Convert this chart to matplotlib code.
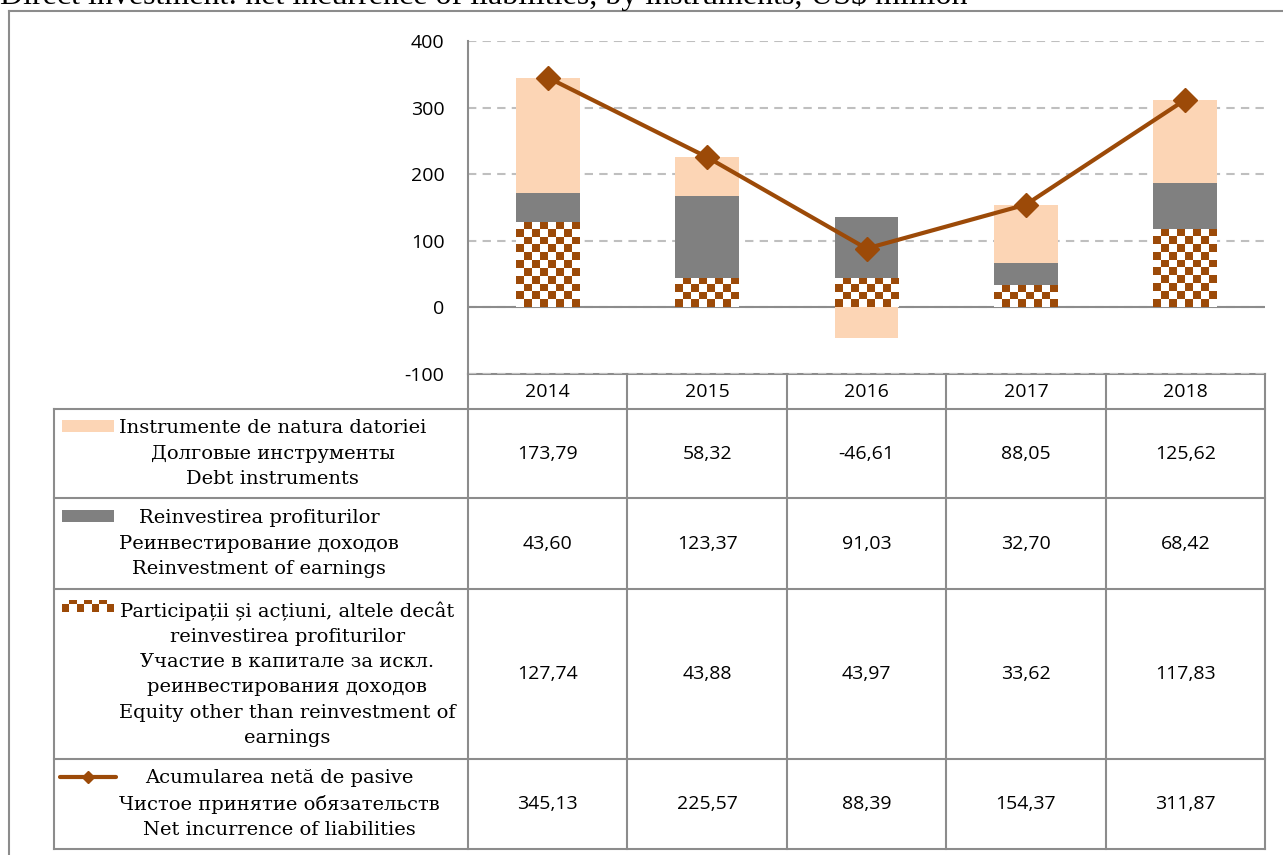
import matplotlib
matplotlib.use("Agg")
import matplotlib.pyplot as plt
from matplotlib.colors import ListedColormap
from matplotlib.patches import Rectangle
import numpy as np

plt.rcParams["axes.unicode_minus"] = False

years = ["2014", "2015", "2016", "2017", "2018"]
debt = [173.79, 58.32, -46.61, 88.05, 125.62]
reinvest = [43.60, 123.37, 91.03, 32.70, 68.42]
equity = [127.74, 43.88, 43.97, 33.62, 117.83]
net_total = [345.13, 225.57, 88.39, 154.37, 311.87]

row_labels = [
    "Instrumente de natura datoriei\nДолговые инструменты\nDebt instruments",
    "Reinvestirea profiturilor\nРеинвестирование доходов\nReinvestment of earnings",
    "Participații și acțiuni, altele decât\nreinvestirea profiturilor\nУчастие в капитале за искл.\n"
    "реинвестирования доходов\nEquity other than reinvestment of\nearnings",
    "Acumularea netă de pasive\nЧистое принятие обязательств\nNet incurrence of liabilities",
]
title = "Direct investment: net incurrence of liabilities, by instruments, US$ million"

PEACH = "#FCD5B5"
GRAY = "#808080"
BROWN = "#9C4A08"
LINE_C = "#8C8C8C"
SERIF = "DejaVu Serif"
SANS = "Open Sans"

W, H = 1283, 855
fig = plt.figure(figsize=(W / 100, H / 100), dpi=100)

# pixel layout of the excel-like chart + data table
plot_l, plot_r, plot_t, plot_b = 468, 1265, 41, 374
leg_l = 54
row_edges = [374, 409, 498, 589, 759, 849]

ax = fig.add_axes([plot_l / W, 1 - plot_b / H, (plot_r - plot_l) / W, (plot_b - plot_t) / H])
ax.set_zorder(2)
ax.patch.set_alpha(0)
ax.set_xlim(-0.5, len(years) - 0.5)
ax.set_ylim(-100, 400)
ax.set_yticks([-100, 0, 100, 200, 300, 400])
ax.set_xticks([])
ax.tick_params(axis="y", length=0, pad=17, labelsize=14)
for lab in ax.get_yticklabels():
    lab.set_fontfamily(SANS)
for s in ["top", "right", "bottom"]:
    ax.spines[s].set_visible(False)
ax.spines["left"].set_color(LINE_C)
ax.spines["left"].set_linewidth(1.5)
ax.yaxis.grid(True, color="#BFBFBF", linewidth=1.5, linestyle=(0, (4, 3)))
ax.set_axisbelow(True)
ax.axhline(0, color=LINE_C, linewidth=1.5, zorder=1.5)

x = np.arange(len(years))
eq = np.array(equity)
re = np.array(reinvest)
de = np.array(debt)
bw = 0.4

# equity bars: white base with checkerboard overlay
eq_bars = ax.bar(x, eq, width=bw, color="white", linewidth=0, zorder=2)
checker_cmap = ListedColormap(["white", BROWN])
cell = 8.0
for b in eq_bars:
    x0, y0 = b.get_x(), b.get_y()
    x1, y1 = x0 + b.get_width(), y0 + b.get_height()
    p0 = ax.transData.transform((x0, y0))
    p1 = ax.transData.transform((x1, y1))
    nc = max(1, int(round(abs(p1[0] - p0[0]) / cell)))
    nr = max(1, int(round(abs(p1[1] - p0[1]) / cell)))
    ii, jj = np.indices((nr, nc))
    img = ax.imshow((ii + jj) % 2, cmap=checker_cmap, extent=(x0, x1, y0, y1),
                    aspect="auto", interpolation="nearest", origin="upper", zorder=2.1)
    img.set_clip_path(b)

ax.bar(x, re, width=bw, bottom=eq, color=GRAY, linewidth=0, zorder=2)
debt_bottom = np.where(de >= 0, eq + re, 0)
ax.bar(x, de, width=bw, bottom=debt_bottom, color=PEACH, linewidth=0, zorder=2)

ax.plot(x, net_total, color=BROWN, linewidth=3, marker="D", markersize=12, zorder=3)
ax.set_xlim(-0.5, len(years) - 0.5)
ax.set_ylim(-100, 400)

# table overlay in pixel coordinates
tab = fig.add_axes([0, 0, 1, 1])
tab.set_zorder(1)
tab.set_xlim(0, W)
tab.set_ylim(H, 0)
tab.axis("off")

lw = 1.5
# outer frame
tab.plot([9, 9], [11, H], color=LINE_C, lw=lw)
tab.plot([9, W], [11, 11], color=LINE_C, lw=lw)

col_w = (plot_r - plot_l) / len(years)
tab.plot([plot_l, plot_r], [row_edges[0]] * 2, color=LINE_C, lw=lw)
for ry in row_edges[1:]:
    tab.plot([leg_l, plot_r], [ry, ry], color=LINE_C, lw=lw)
for k in range(len(years) + 1):
    cx = plot_l + k * col_w
    tab.plot([cx, cx], [row_edges[0], row_edges[-1]], color=LINE_C, lw=lw)
tab.plot([leg_l, leg_l], [row_edges[1], row_edges[-1]], color=LINE_C, lw=lw)

for k, yr in enumerate(years):
    cx = plot_l + (k + 0.5) * col_w
    tab.text(cx, (row_edges[0] + row_edges[1]) / 2, yr, ha="center", va="center",
             fontsize=14, fontfamily=SANS)

series_rows = [debt, reinvest, equity, net_total]
for r, vals in enumerate(series_rows):
    cy = (row_edges[r + 1] + row_edges[r + 2]) / 2
    for k, v in enumerate(vals):
        cx = plot_l + (k + 0.5) * col_w
        tab.text(cx, cy, f"{v:.2f}".replace(".", ","), ha="center", va="center",
                 fontsize=14, fontfamily=SANS)
    tab.text(119, cy, row_labels[r], ha="left", va="center", multialignment="center",
             fontsize=14, fontfamily=SERIF, linespacing=1.52)

# legend keys
sw_l, sw_r = 62, 114
first_line = [row_edges[1] + 17, row_edges[2] + 18, row_edges[3] + 17, row_edges[4] + 18]
tab.add_patch(Rectangle((sw_l, first_line[0] - 6), sw_r - sw_l, 12, color=PEACH, lw=0))
tab.add_patch(Rectangle((sw_l, first_line[1] - 6), sw_r - sw_l, 12, color=GRAY, lw=0))
cj = np.arange(7)
sw_pattern = np.vstack([cj % 2, (cj + 1) % 2, (cj + 1) % 2])
tab.imshow(sw_pattern, cmap=checker_cmap, interpolation="nearest",
           extent=(sw_l, sw_r, first_line[2] + 6, first_line[2] - 6), aspect="auto")
tab.plot([60, 116], [first_line[3]] * 2, color=BROWN, lw=3, solid_capstyle="round")
tab.plot([88], [first_line[3]], marker="D", color=BROWN, markersize=6)
tab.set_xlim(0, W)
tab.set_ylim(H, 0)

fig.text(0, 1 - 4 / H, title, ha="left", va="baseline", fontsize=23, fontfamily="Liberation Serif")

fig.savefig("out.png", dpi=100)
